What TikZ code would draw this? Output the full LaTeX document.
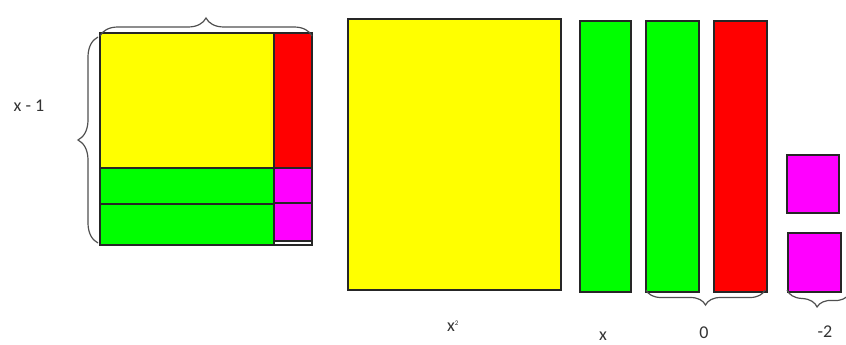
\documentclass[tikz,border=0pt]{standalone}
\usepackage{fontspec}
\setmainfont{Carlito}
\usetikzlibrary{decorations.pathreplacing}
\definecolor{tileY}{RGB}{255,255,0}
\definecolor{tileG}{RGB}{0,255,0}
\definecolor{tileR}{RGB}{255,0,0}
\definecolor{tileM}{RGB}{255,0,255}
\definecolor{braceC}{RGB}{80,80,80}
\begin{document}
\begin{tikzpicture}[x=1pt,y=-1pt,
  tile/.style={draw=black!85,line width=1.3pt,inner sep=0pt,outer sep=0pt,anchor=north west},
  ytile/.style={tile,fill=tileY},
  gtile/.style={tile,fill=tileG},
  rtile/.style={tile,fill=tileR},
  mtile/.style={tile,fill=tileM},
  bracesty/.style={draw=braceC,line width=1.2pt,decorate,decoration={brace,amplitude=#1}},
  lbl/.style={font=\fontsize{18}{21}\selectfont,text=black!80,inner sep=0pt}]
\useasboundingbox (0,0) rectangle (846,345);
% left composite block
\node[ytile,minimum width=174pt,minimum height=135pt] (ly) at (100,33) {};
\node[rtile,minimum width=38pt,minimum height=135pt] (lr) at (274,33) {};
\node[gtile,minimum width=174pt,minimum height=36pt] (lg1) at (100,168) {};
\node[gtile,minimum width=174pt,minimum height=41pt] (lg2) at (100,204) {};
\node[mtile,minimum width=38pt,minimum height=35pt] (lm1) at (274,168) {};
\node[mtile,minimum width=38pt,minimum height=38pt] (lm2) at (274,203) {};
\node[tile,fill=white,minimum width=38pt,minimum height=4pt] (ls) at (274,241) {};
% braces of left block
\draw[bracesty=18pt] ([yshift=-3pt]ly.north west) -- ([yshift=-3pt]lr.north east);
\draw[bracesty=20pt] ([xshift=-2pt,yshift=2pt]lg2.south west) -- ([xshift=-2pt,yshift=-4pt]ly.north west);
\node[lbl] (lx) at (29,106) {x - 1};
% separate tiles
\node[ytile,minimum width=213pt,minimum height=271pt] (bx2) at (348,19) {};
\node[gtile,minimum width=51pt,minimum height=271pt] (bx) at (580,21) {};
\node[gtile,minimum width=53pt,minimum height=271pt] (bg) at (646,21) {};
\node[rtile,minimum width=53pt,minimum height=271pt] (br) at (714,21) {};
\node[mtile,minimum width=52pt,minimum height=58pt] (bm1) at (787,155) {};
\node[mtile,minimum width=53pt,minimum height=59pt] (bm2) at (788,233) {};
\coordinate (bend) at (849,294);
% bottom braces
\draw[bracesty=15pt] ([xshift=-2pt,yshift=2pt]br.south east) -- ([yshift=2pt]bg.south west);
\draw[bracesty=15pt] (bend) -- ([xshift=-1pt,yshift=2pt]bm2.south west);
% labels
\node[lbl] (tx2) at (453,326) {x\textsuperscript{\scriptsize 2}};
\node[lbl] (tx) at (603,336) {x};
\node[lbl] (t0) at (704,333) {0};
\node[lbl] (tm2) at (825,332) {-2};
\end{tikzpicture}
\end{document}
